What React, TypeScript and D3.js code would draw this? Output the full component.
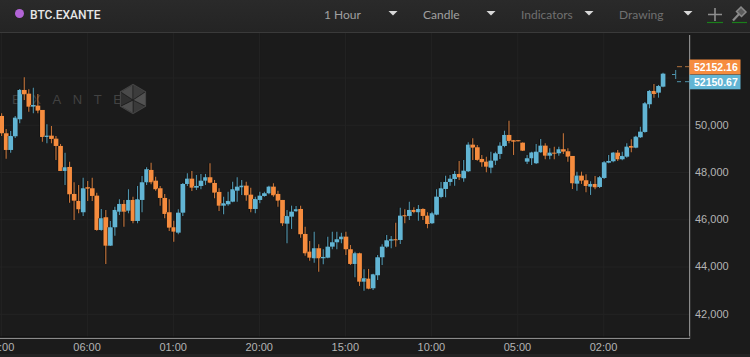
import React from "react";
import * as d3 from "d3";

const opens = [50394,49661,48955,49534,50254,51494,51337,50787,50830,50648,49504,49560,49433,49124,48066,48236,47093,46797,46319,47376,47334,47021,45569,46107,44905,45684,46344,46670,46386,46839,45950,46839,47588,48109,47655,47334,46924,46319,45684,45455,46301,47516,47740,47360,47431,47655,47800,47558,47178,46598,46657,46767,47232,47376,47444,47063,46458,46839,47008,47123,47402,47093,46839,45836,46132,46361,46458,45400,44651,44372,44795,44372,44397,44863,45049,45176,45286,44753,44131,44583,43381,43508,43102,43652,44414,44863,45117,45176,45146,46192,46162,46416,46319,46458,46175,45853,46217,46966,47304,47601,47727,47939,47757,48053,49179,49069,48574,48460,48206,48503,48786,49124,49590,49366,49366,49264,48460,48604,48392,48858,49137,48714,48841,48815,48985,48900,48701,47529,47868,47673,47402,47516,47389,47770,48417,48477,48841,48561,48671,49124,49052,49492,49717,50889,51452,51380,51634];
const highs = [50508,49843,49759,50394,51536,52031,51524,51591,51325,50648,50043,49970,49547,49209,48841,48460,47588,47474,47782,47643,47782,47148,46458,46416,45950,46556,46869,46839,47292,46979,47431,47855,48223,48417,47825,47431,47093,46869,45963,46446,47558,47969,48066,47897,47939,47939,48392,47685,47334,46979,47190,47613,47800,47685,47613,47360,46979,47190,47190,47444,47546,47232,46839,46416,46598,46585,46598,45710,45104,45498,44964,44753,45286,45498,45498,45455,45498,44935,44651,44609,43906,43919,43720,44511,44964,45358,45315,45878,46513,46446,46767,46530,46627,46488,46319,46344,47292,47601,47868,47897,48066,48490,48532,49281,49450,49167,48743,48671,48883,48883,49281,49772,50195,49378,49378,49272,48743,48883,49209,49420,49238,49027,49095,49095,49661,49027,48701,48036,48036,47927,47630,47855,47855,48490,48743,48870,48955,48883,49238,49408,49560,49941,50986,51494,51748,51706,52226];
const lows = [49547,48587,48841,49463,50085,51071,50576,50508,50508,49306,49238,49238,48532,48066,47474,46725,45993,46276,46162,46797,46797,45540,45540,44131,44892,45328,46204,45710,46276,45853,45853,46319,47474,47503,47232,46598,46065,45527,45074,45388,46162,47431,47220,47262,47292,47474,47546,46911,46374,46234,46598,46742,46767,47051,46809,46319,46276,46699,46979,47080,46979,46556,45739,45007,45612,46344,45244,44482,44270,44186,43805,44118,44372,44753,44753,45007,44511,44088,43568,43200,43000,43060,43030,43453,44088,44820,44795,44863,44977,45853,45993,46276,45963,45993,45642,45823,46192,46911,46953,47444,47444,47685,47613,48024,48532,48503,48248,48011,47969,48320,48574,49069,49238,48743,49315,48912,48363,48320,48363,48841,48561,48561,48561,48714,48786,48460,47304,47232,47516,47165,47051,47292,47347,47727,48392,48435,48490,48519,48629,48858,49027,49463,49687,50720,51168,51168,51608];
const closes = [49661,48955,49547,50322,51494,51312,50787,50859,50618,49504,49560,49420,49124,48066,48223,47080,46809,46446,47334,47317,47008,45569,46065,44905,45684,46416,46670,46344,46839,45950,46869,47588,48138,47588,47292,46924,46247,45667,45498,46301,47516,47740,47360,47431,47655,47800,47571,47148,46598,46699,46797,47292,47402,47444,47038,46458,46881,47021,47123,47402,47038,46809,45853,46162,46344,46446,45388,44583,44397,44795,44372,44427,44863,45049,45176,45286,44753,44131,44583,43381,43525,43085,43694,44414,44863,45133,45176,45146,46175,46162,46416,46331,46458,46162,45823,46276,46979,47334,47601,47740,47939,47800,48079,49179,49052,48532,48435,48248,48503,48815,49137,49590,49336,49306,49336,48925,48604,48849,48883,49137,48714,48841,48815,48985,48883,48671,47546,47868,47655,47431,47516,47376,47800,48435,48490,48841,48561,48701,49095,49052,49518,49730,50931,51452,51325,51664,52184];

const priceTicks = [50000, 48000, 46000, 44000, 42000];
const gridPrices = [52000, 50000, 48000, 46000, 44000, 42000];
const timeLabels = ["11:00", "06:00", "01:00", "20:00", "15:00", "10:00", "05:00", "02:00"];
const timeIndexes = [0, 19, 38, 57, 76, 95, 114, 133];
const askLabel = "52152.16";
const bidLabel = "52150.67";
const menuItems = ["1 Hour", "Candle", "Indicators", "Drawing"];

const UP = "#62b5d4";
const DOWN = "#f68c3e";
const UP_WICK = "#4f94ad";
const DOWN_WICK = "#c5743a";
const SANS = "'Liberation Sans', Arial, sans-serif";

const x = d3.scaleLinear().domain([0, 146]).range([1.5, 662.9]);
const y = d3.scaleLinear().domain([42000, 52000]).range([314.3, 78]);

const menuX = [324, 423, 521, 619];
const menuFill = ["#a0a0a0", "#a0a0a0", "#707070", "#707070"];
const arrowX = [393, 491, 589, 688];

function hexPoints(cx: number, cy: number, r: number) {
  return d3.range(6).map((k) => {
    const a = Math.PI / 6 + (k * Math.PI) / 3;
    return [cx + r * Math.cos(a), cy + r * Math.sin(a)];
  });
}

function Logo({ cx, cy, r }: { cx: number; cy: number; r: number }) {
  const p = hexPoints(cx, cy, r);
  const path = (pts: number[][]) => "M" + pts.map((q) => q.join(",")).join("L") + "Z";
  const c: number[] = [cx, cy + 1];
  const shades = ["#3a3a3a", "#4e4e4e", "#303030", "#4a4a4a", "#3c3c3c", "#525252"];
  return (
    <g>
      {p.map((q, k) => (
        <path key={k} d={path([q, p[(k + 1) % 6], c])} fill={shades[k]} stroke="#1b1b1b" strokeWidth={0.6} />
      ))}
      <path d={path(p)} fill="none" stroke="#444" strokeWidth={1.2} />
    </g>
  );
}

export default function App() {
  return (
    <svg
      width={750}
      height={357}
      viewBox="0 0 750 357"
      style={{ position: "absolute", left: 0, top: 0, display: "block" }}
    >
      <defs>
        <clipPath id="plot">
          <rect x={0} y={33} width={689} height={305} />
        </clipPath>
        <linearGradient id="head" x1="0" x2="0" y1="0" y2="1">
          <stop offset="0" stopColor="#2a2a2a" />
          <stop offset="1" stopColor="#242424" />
        </linearGradient>
      </defs>
      <rect width={750} height={357} fill="#1b1b1b" />
      <rect width={750} height={32} fill="url(#head)" />
      <line x1={0} x2={750} y1={32.5} y2={32.5} stroke="#3a3a3a" />
      <rect y={354} width={750} height={3} fill="#232323" />

      <circle cx={19.5} cy={13.5} r={4.5} fill="#b264d6" />
      <text x={30} y={18.5} fontFamily="Roboto, sans-serif" fontSize={12} fontWeight={500} fill="#e6e6e6">
        BTC.EXANTE
      </text>
      {menuItems.map((m, k) => (
        <text key={m} x={menuX[k]} y={19} fontFamily="Lato, sans-serif" fontSize={12} fill={menuFill[k]}>
          {m}
        </text>
      ))}
      {arrowX.map((ax) => (
        <path key={ax} d={`M${ax - 4.5},11 L${ax + 4.5},11 L${ax},15.5 Z`} fill="#d8d8d8" />
      ))}
      <path d="M708,14.5 H722 M715,8 V21" stroke="#8e8e8e" strokeWidth={1.6} fill="none" />
      <line x1={707} x2={723} y1={22.5} y2={22.5} stroke="#1a7f1a" strokeWidth={1.2} />
      <g stroke="#8a8a8a" fill="none">
        <path d="M733,20.5 L740,13" strokeWidth={2.2} />
        <path d="M736.5,11.5 L741,7 L746,12 L741.5,16.5 Z" strokeWidth={1.5} fill="#5c5c5c" />
      </g>
      <line x1={732} x2={747} y1={22.5} y2={22.5} stroke="#1a7f1a" strokeWidth={1.2} />

      {gridPrices.map((p) => (
        <line key={p} x1={0} x2={689} y1={y(p)} y2={y(p)} stroke="#232323" />
      ))}
      {timeIndexes.map((i) => (
        <line key={i} x1={x(i) - 0.2} x2={x(i) - 0.2} y1={33} y2={337} stroke="#232323" />
      ))}

      <text x={12} y={104} fontFamily={SANS} fontSize={13} letterSpacing={11.6} fill="#424242">
        EXANTE
      </text>
      <Logo cx={133} cy={99} r={14.5} />

      <g clipPath="url(#plot)">
        {opens.map((o, i) => {
          const c = closes[i];
          const up = c >= o;
          const top = y(Math.max(o, c));
          const h = Math.max(1, y(Math.min(o, c)) - top);
          return (
            <g key={i}>
              <line x1={x(i) - 1} x2={x(i) - 1} y1={y(highs[i])} y2={y(lows[i])} stroke="#0c0c0c" strokeWidth={1} opacity={0.8} />
              <line x1={x(i) + 0.1} x2={x(i) + 0.1} y1={y(highs[i])} y2={y(lows[i])} stroke={up ? UP_WICK : DOWN_WICK} strokeWidth={1.1} />
              <rect x={x(i) - 3} y={top} width={1} height={h} fill="#0e0e0e" opacity={0.7} />
              <rect x={x(i) - 2.2} y={top} width={4.7} height={h} fill={up ? UP : DOWN} />
            </g>
          );
        })}
      </g>

      <line x1={689.6} x2={689.6} y1={35} y2={338.8} stroke="#8a8a8a" strokeWidth={1.2} />
      <line x1={0} x2={690} y1={338.3} y2={338.3} stroke="#8a8a8a" strokeWidth={1.2} />
      <line x1={0} x2={690} y1={337} y2={337} stroke="#0d0d0d" />

      {priceTicks.map((p) => (
        <text key={p} x={695} y={y(p) + 3.4} fontFamily={SANS} fontSize={11} fill="#b4b4b4">
          {d3.format(",")(p)}
        </text>
      ))}
      {timeLabels.map((t, k) => (
        <text key={t} x={x(timeIndexes[k]) - 0.5} y={351} textAnchor="middle" fontFamily={SANS} fontSize={11} fill="#b4b4b4">
          {t}
        </text>
      ))}

      <path d="M677,66.7 H689" stroke="#b0703c" strokeDasharray="5 3" />
      <path d="M677,81.7 H689" stroke="#4f94ad" strokeDasharray="4 4" />
      <path d="M675.7,70 V79 M672,74.5 H675.7" stroke="#4f94ad" fill="none" />

      <rect x={689.5} y={59.5} width={51} height={15} fill={DOWN} />
      <rect x={689.5} y={74.8} width={51} height={14.5} fill={UP} />
      <text x={694} y={70.5} fontFamily={SANS} fontSize={10.5} fontWeight={700} fill="#fff">
        {askLabel}
      </text>
      <text x={694} y={85.5} fontFamily={SANS} fontSize={10.5} fontWeight={700} fill="#fff">
        {bidLabel}
      </text>
    </svg>
  );
}
